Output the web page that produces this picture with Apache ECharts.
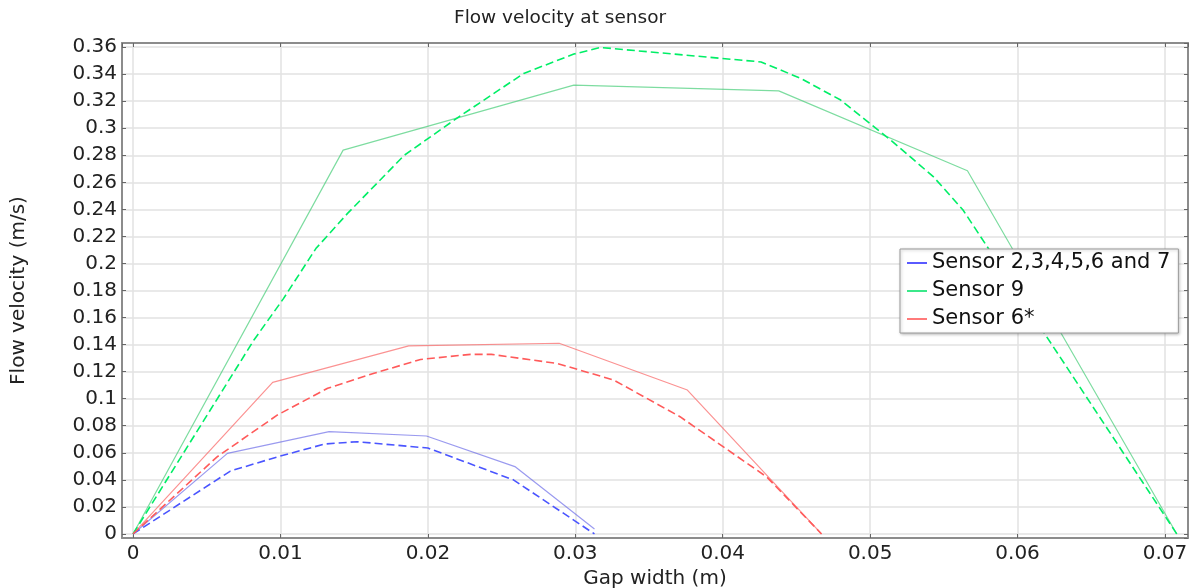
<!DOCTYPE html>
<html>
<head>
<meta charset="utf-8">
<title>Flow velocity at sensor</title>
<script src="https://cdn.jsdelivr.net/npm/echarts@6/dist/echarts.min.js"></script>
<style>
  html, body { margin: 0; padding: 0; background: #fff; }
  #chart { width: 1195px; height: 588px; }
</style>
</head>
<body>
<div id="chart"></div>
<script>
// 传感器处流速 vs 间隙宽度（实线/虚线两组结果）
const sensorNames = ['Sensor 2,3,4,5,6 and 7', 'Sensor 9', 'Sensor 6*'];

// Sensor 2,3,4,5,6 and 7
const blueSolidX = [0, 0.0064, 0.0133, 0.0199, 0.0259, 0.0313];
const blueSolidY = [0, 0.0596, 0.0756, 0.0724, 0.0498, 0.0037];
const blueDashX = [0, 0.0066, 0.0098, 0.0130, 0.0152, 0.0200, 0.0258, 0.0313];
const blueDashY = [0, 0.0465, 0.0570, 0.0665, 0.0682, 0.0635, 0.0400, 0];

// Sensor 9
const greenSolidX = [0, 0.01425, 0.0299, 0.0438, 0.0566, 0.0708];
const greenSolidY = [0, 0.2838, 0.3319, 0.3276, 0.2685, 0];
const greenDashX = [0, 0.0082, 0.0102, 0.0124, 0.01455, 0.0184, 0.0221, 0.0265, 0.0299, 0.0317, 0.0426, 0.0453, 0.0480, 0.0514, 0.0543, 0.0563, 0.0708];
const greenDashY = [0, 0.1434, 0.1740, 0.2110, 0.2370, 0.2800, 0.3084, 0.3405, 0.3548, 0.3597, 0.3490, 0.3368, 0.3208, 0.2912, 0.2640, 0.2395, 0];

// Sensor 6*
const redSolidX = [0, 0.00947, 0.0187, 0.0289, 0.0376, 0.0467];
const redSolidY = [0, 0.1121, 0.1390, 0.1410, 0.1064, 0];
const redDashX = [0, 0.0057, 0.0098, 0.0132, 0.01635, 0.0195, 0.0229, 0.0243, 0.0288, 0.0326, 0.0371, 0.0430, 0.0467];
const redDashY = [0, 0.0570, 0.0880, 0.1077, 0.1188, 0.1290, 0.1328, 0.1328, 0.1260, 0.1138, 0.0867, 0.0420, 0];

const zip = (xs, ys) => xs.map((x, i) => [x, ys[i]]);

const font = 'DejaVu Sans';
const legendColors = ['#5a5aff', '#3be88a', '#ff7a7a'];

const chart = echarts.init(document.getElementById('chart'));

// 四周边框 + 向内刻度
const frameAxis = {
    type: 'value',
    axisLine: { show: true, onZero: false, lineStyle: { color: '#8c8c8c', width: 2 } },
    axisTick: { show: true, inside: true, length: 4, lineStyle: { color: '#666' } }
};

function line(name, data, color, dashed) {
    return {
        name: name,
        type: 'line',
        data: data,
        symbol: 'none',
        silent: true,
        lineStyle: dashed
            ? { color: color, width: 1.6, type: [8, 4] }
            : { color: color, width: 1.2 }
    };
}

const option = {
    animation: false,
    backgroundColor: '#fff',
    title: {
        text: 'Flow velocity at sensor',
        left: 449,
        top: 4,
        textStyle: { fontFamily: font, fontSize: 18.5, fontWeight: 'normal', color: '#222' }
    },
    grid: { left: 122, right: 7, top: 43, bottom: 50, outerBoundsMode: 'none' },
    legend: {
        orient: 'vertical',
        left: 900,
        top: 249,
        padding: [3, 8, 3, 7],
        itemGap: 6,
        itemWidth: 20,
        itemHeight: 2,
        icon: 'rect',
        backgroundColor: '#fff',
        borderColor: '#9a9a9a',
        borderWidth: 1,
        shadowColor: 'rgba(0,0,0,0.25)',
        shadowBlur: 3,
        shadowOffsetX: 1,
        shadowOffsetY: 1,
        textStyle: { fontFamily: font, fontSize: 21, lineHeight: 22, color: '#111' },
        data: sensorNames.map((n, i) => ({ name: n, itemStyle: { color: legendColors[i] } }))
    },
    xAxis: [
        Object.assign({}, frameAxis, {
            position: 'bottom',
            min: -0.00075,
            max: 0.07156,
            splitNumber: 7,
            name: 'Gap width (m)',
            nameLocation: 'middle',
            nameGap: 25,
            nameTextStyle: { fontFamily: font, fontSize: 20, color: '#222' },
            axisLabel: { fontFamily: font, fontSize: 20, color: '#222', margin: 6, showMinLabel: false, showMaxLabel: false },
            splitLine: { show: true, lineStyle: { color: '#e2e2e2', width: 1.5 } }
        }),
        Object.assign({}, frameAxis, {
            position: 'top',
            min: -0.00075,
            max: 0.07156,
            splitNumber: 7,
            axisLabel: { show: false },
            splitLine: { show: false }
        })
    ],
    yAxis: [
        Object.assign({}, frameAxis, {
            position: 'left',
            min: -0.003,
            max: 0.363,
            splitNumber: 18,
            name: 'Flow velocity (m/s)',
            nameLocation: 'middle',
            nameGap: 93,
            nameTextStyle: { fontFamily: font, fontSize: 20, color: '#222' },
            axisLabel: { fontFamily: font, fontSize: 20, color: '#222', margin: 5, showMinLabel: false, showMaxLabel: false },
            splitLine: { show: true, lineStyle: { color: '#e2e2e2', width: 1.5 } }
        }),
        Object.assign({}, frameAxis, {
            position: 'right',
            min: -0.003,
            max: 0.363,
            splitNumber: 18,
            axisLabel: { show: false },
            splitLine: { show: false }
        })
    ],
    series: [
        line(sensorNames[0], zip(blueSolidX, blueSolidY), 'rgba(100,100,230,0.65)', false),
        line(sensorNames[1], zip(greenSolidX, greenSolidY), 'rgba(70,205,120,0.7)', false),
        line(sensorNames[2], zip(redSolidX, redSolidY), 'rgba(250,110,110,0.75)', false),
        line(sensorNames[0], zip(blueDashX, blueDashY), '#4a55ff', true),
        line(sensorNames[1], zip(greenDashX, greenDashY), '#00ee66', true),
        line(sensorNames[2], zip(redDashX, redDashY), '#ff5a5a', true)
    ]
};

chart.setOption(option);
</script>
</body>
</html>
